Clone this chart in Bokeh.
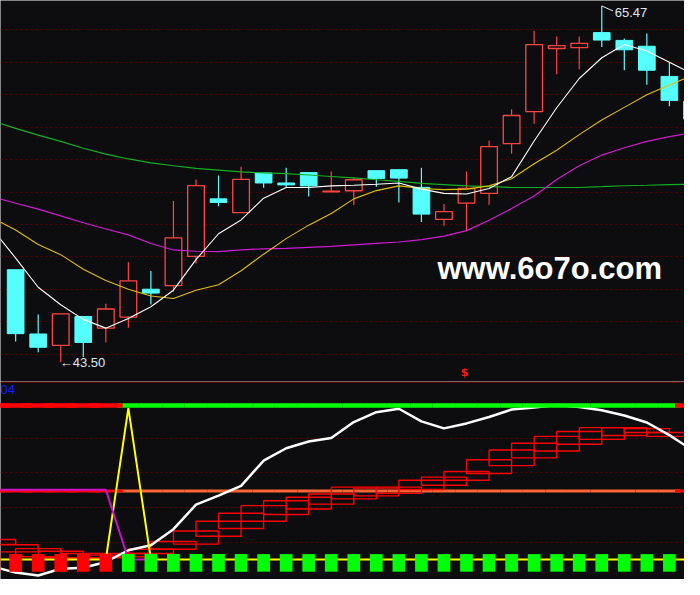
from bokeh.plotting import figure
from bokeh.models import Range1d, FixedTicker, Span
from bokeh.layouts import column
from bokeh.core.properties import value
from bokeh.embed import file_html
from bokeh.resources import INLINE

BG = "#0d0d10"
GRID = "#5c0000"
RED = "#ff4444"
CYAN = "#55ffff"

# ---------------- price data (index 0..30) ----------------
idx = list(range(31))
opens = [49.21, 45.25, 44.55, 46.33, 45.61, 46.29, 48.01, 48.23, 50.03, 53.58, 52.73, 55.18, 54.56, 55.20, 54.02, 54.08,
         55.32, 55.38, 54.29, 52.31, 53.32, 53.92, 56.98, 58.96, 62.85, 62.91, 63.83, 63.35, 62.99, 61.13, 59.60]
closes = [45.27, 44.43, 46.49, 44.73, 46.79, 48.53, 47.77, 51.17, 54.40, 53.36, 54.78, 54.56, 54.44, 54.38, 54.06, 54.76,
          54.84, 54.86, 52.64, 52.79, 54.22, 56.80, 58.72, 63.09, 63.03, 63.17, 63.37, 62.77, 61.51, 59.65, 58.50]
highs = [49.21, 46.45, 46.49, 46.33, 47.11, 49.67, 49.13, 53.45, 54.78, 55.02, 55.56, 55.18, 55.50, 55.20, 55.26, 54.90,
         55.32, 55.38, 55.50, 53.27, 55.26, 57.18, 59.10, 63.95, 63.59, 63.59, 65.47, 63.47, 63.77, 62.01, 59.60]
lows = [44.79, 44.13, 43.50, 43.83, 44.73, 45.63, 47.07, 47.87, 49.59, 53.12, 52.73, 54.26, 54.28, 53.72, 54.02, 53.20,
        54.32, 53.36, 52.16, 51.92, 51.59, 53.22, 56.36, 58.21, 61.27, 61.57, 62.95, 61.51, 60.61, 59.29, 58.20]

# moving averages (index -1..30)
ma_idx = list(range(-1, 31))
ma5 = [51.66, 49.93, 48.13, 47.05, 46.15, 45.61, 46.21, 46.93, 47.95, 49.83, 51.43, 52.28, 53.62, 54.28, 54.28, 54.38,
       54.42, 54.48, 54.56, 54.18, 53.92, 53.88, 54.22, 54.95, 57.15, 59.20, 61.00, 62.28, 63.10, 62.70, 62.00, 61.30]
ma10 = [52.38, 51.66, 50.77, 50.14, 49.24, 48.55, 48.01, 47.59, 47.44, 47.95, 48.28, 49.15, 50.17, 51.13, 51.96, 52.68,
        53.58, 54.09, 54.38, 54.22, 54.15, 54.18, 54.38, 54.82, 55.75, 56.58, 57.54, 58.44, 59.22, 60.00, 60.60, 61.19]
ma30 = [53.70, 53.31, 52.95, 52.53, 52.11, 51.72, 51.36, 50.83, 50.43, 50.35, 50.33, 50.44, 50.50, 50.53, 50.59, 50.65,
        50.74, 50.83, 50.92, 51.07, 51.28, 51.62, 52.26, 52.98, 53.76, 54.78, 55.62, 56.28, 56.73, 57.12, 57.42, 57.66]
ma60 = [58.37, 57.93, 57.51, 57.12, 56.70, 56.34, 56.04, 55.80, 55.62, 55.46, 55.35, 55.24, 55.18, 55.14, 55.05, 54.96,
        54.87, 54.76, 54.66, 54.54, 54.46, 54.38, 54.33, 54.28, 54.28, 54.28, 54.28, 54.33, 54.39, 54.42, 54.46, 54.48]
price_grid = [44, 46, 48, 50, 52, 54, 56, 58, 60, 62, 64]

# ---------------- indicator data ----------------
sig_idx = list(range(-1, 31))
signal = [0] * 6 + [1] * 25 + [0]          # 0 = red state, 1 = green state
ind_white = [-4.7, -8.5, -10.4, -6.0, -5.4, -1.6, 6.0, 9.2, 19.7, 35.6, 41.5, 47.8, 64.1, 72.2, 76.6, 78.8,
             89.2, 95.6, 97.8, 89.6, 85.1, 88.3, 92.5, 97.3, 98.7, 100.3, 99.0, 96.8, 93.4, 88.9, 80.7, 71.2]
ind_yellow = [0, 0, 0, 0, 0, 0, 98.2, 0, 0, 0, 0, 0, 0, 0, 0, 0,
              0, 0, 0, 0, 0, 0, 0, 0, 0, 0, 0, 0, 0, 0, 0, 0]
mag_idx = list(range(-1, 7))
ind_magenta = [45.25, 45.25, 45.25, 45.25, 45.25, 45.25, 0, 0]
box_idx = list(range(-1, 30))
box_top = [12.97, 9.62, 7.09, 5.38, 3.92, 2.85, 3.92, 6.65, 11.71, 18.48, 24.81, 30.06, 34.94, 38.10, 40.38, 42.53,
           46.96, 46.33, 46.96, 51.39, 53.48, 57.09, 64.68, 71.01, 75.44, 79.87, 83.04, 85.57, 85.57, 84.94, 82.41]
box_bot = [9.81, 4.94, 1.77, 1.14, 0.13, 1.14, 1.77, 3.92, 6.65, 10.00, 15.06, 20.13, 24.81, 29.24, 32.78, 35.95,
           39.37, 41.27, 42.91, 45.44, 48.23, 51.39, 55.82, 60.89, 65.95, 70.38, 74.81, 77.97, 80.51, 82.41, 79.87]
BAR_LEVEL = 100
MID_LEVEL = 44.5
ind_grid = [10.9, 33.7, 56.5, 78.6]

# ---------------- top: price figure ----------------
xr = Range1d(-0.672, 29.67)
p1 = figure(width=684, height=381, x_range=xr, y_range=Range1d(42.32, 65.81),
            output_backend="svg", toolbar_location=None, min_border=0,
            background_fill_color=BG, border_fill_color=BG, outline_line_color=None)
p1.axis.visible = False
p1.xgrid.visible = False
p1.ygrid.ticker = FixedTicker(ticks=price_grid)
p1.ygrid.grid_line_color = GRID
p1.ygrid.grid_line_dash = "2 3"
p1.ygrid.grid_line_width = 1

up_i = [i for i in idx if closes[i] >= opens[i]]
dn_i = [i for i in idx if closes[i] < opens[i]]

# down candles (filled cyan)
p1.segment(x0=dn_i, y0=[highs[i] for i in dn_i], x1=dn_i, y1=[lows[i] for i in dn_i],
           line_color=CYAN, line_width=1.2)
p1.vbar(x=dn_i, width=0.74, top=[opens[i] for i in dn_i], bottom=[closes[i] for i in dn_i],
        fill_color=CYAN, line_color=CYAN, line_width=1)
# up candles (hollow red)
p1.segment(x0=up_i, y0=[highs[i] for i in up_i], x1=up_i, y1=[closes[i] for i in up_i],
           line_color=RED, line_width=1.2)
p1.segment(x0=up_i, y0=[opens[i] for i in up_i], x1=up_i, y1=[lows[i] for i in up_i],
           line_color=RED, line_width=1.2)
p1.vbar(x=up_i, width=0.74, top=[closes[i] for i in up_i], bottom=[opens[i] for i in up_i],
        fill_color=BG, line_color=RED, line_width=1.3)

p1.line(ma_idx, ma60, line_color="#12b024", line_width=1.2)
p1.line(ma_idx, ma30, line_color="#d21ad2", line_width=1.2)
p1.line(ma_idx, ma10, line_color="#e0c000", line_width=1.1)
p1.line(ma_idx, ma5, line_color="#ffffff", line_width=1.1)

# extreme labels
hi_i = max(idx, key=lambda i: highs[i])
lo_i = min(idx, key=lambda i: lows[i])
p1.segment(x0=[hi_i], y0=[highs[hi_i]], x1=[hi_i + 0.5], y1=[highs[hi_i] - 0.3],
           line_color="#e8eef5", line_width=1)
p1.text(x=[hi_i], y=[highs[hi_i]], text=[f"{highs[hi_i]:.2f}"], x_offset=13, y_offset=6,
        text_align="left", text_baseline="middle", text_color="#dfe8f2",
        text_font=value("Liberation Sans"), text_font_size="13px")
p1.text(x=[lo_i], y=[lows[lo_i]], text=[f"\u2190{lows[lo_i]:.2f}"], x_offset=-1, y_offset=0,
        text_align="left", text_baseline="middle", text_color="#dfe8f2",
        text_font=value("Liberation Sans"), text_font_size="13px")

# signal marker
p1.text(x=[20], y=[42.9], text=["$"], x_offset=-2, text_align="center", text_baseline="middle",
        text_color="#ff1a1a", text_font=value("DejaVu Sans"), text_font_size="11px", text_font_style="bold")

# watermark
p1.text(x=[23.69], y=[49.27], text=["www.6o7o.com"], text_align="center", text_baseline="middle",
        text_color="#ffffff", text_font=value("Liberation Sans"), text_font_size="31px",
        text_font_style="bold")

# ---------------- bottom: indicator figure ----------------
p2 = figure(width=684, height=198, x_range=xr, y_range=Range1d(-12.97, 115.5),
            output_backend="svg", toolbar_location=None, min_border=0,
            background_fill_color=BG, border_fill_color=BG, outline_line_color=None)
p2.axis.visible = False
p2.xgrid.visible = False
p2.ygrid.ticker = FixedTicker(ticks=ind_grid)
p2.ygrid.grid_line_color = GRID
p2.ygrid.grid_line_dash = "2 3"
p2.add_layout(Span(location=115.0, dimension="width", line_color="#5a0000", line_width=1.5))

green_i = [sig_idx[k] for k in range(len(sig_idx)) if signal[k] == 1]
red_i = [sig_idx[k] for k in range(len(sig_idx)) if signal[k] == 0]

# middle level line (orange / red)
p2.rect(x=green_i, y=[MID_LEVEL] * len(green_i), width=1.0, height=3, height_units="screen",
        fill_color="#ff6633", line_color=None)
p2.rect(x=red_i, y=[MID_LEVEL] * len(red_i), width=1.5, height=3, height_units="screen",
        fill_color="#ff0000", line_color=None)

# boxes
p2.quad(left=[i - 1 for i in box_idx], right=[i + 1 for i in box_idx], top=box_top, bottom=box_bot,
        fill_color=None, line_color="#ff0000", line_width=1.4)

# white curve
p2.line(sig_idx, ind_white, line_color="#ffffff", line_width=2.5)

# top state bar
p2.rect(x=green_i, y=[BAR_LEVEL] * len(green_i), width=1.0, height=4.5, height_units="screen",
        fill_color="#00ff00", line_color=None)
p2.rect(x=red_i, y=[BAR_LEVEL] * len(red_i), width=1.5, height=4.5, height_units="screen",
        fill_color="#ff0000", line_color=None)

# yellow spike and magenta line
p2.line(sig_idx, ind_yellow, line_color="#ffff00", line_width=2)
p2.line(mag_idx, ind_magenta, line_color="#cc10cc", line_width=2)

# state squares
p2.vbar(x=green_i, width=0.5635, top=3.5, bottom=-7.9, fill_color="#00ff00", line_color=None)
p2.vbar(x=red_i, width=0.5635, top=3.5, bottom=-7.9, fill_color="#ff0000", line_color=None)

p2.text(x=[-0.672], y=[110.4], text=["04"], text_align="left", text_baseline="middle",
        text_color="#1a1aff", text_font=value("Liberation Sans"), text_font_size="13px")

layout = column(p1, p2, spacing=0)
open("out.html", "w").write(file_html(layout, INLINE))
